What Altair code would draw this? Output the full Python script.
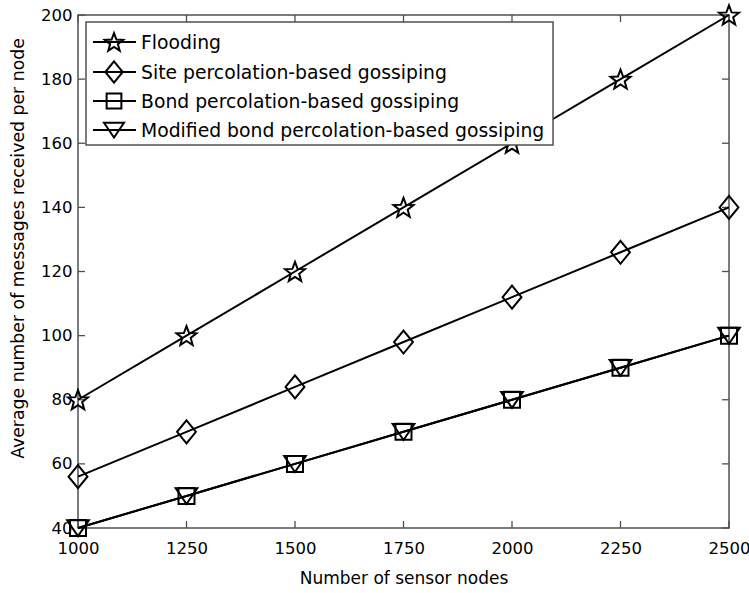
import math
import altair as alt
import pandas as pd

# ---- data -------------------------------------------------------------
NODES = [1000, 1250, 1500, 1750, 2000, 2250, 2500]
FLOODING = [80, 100, 120, 140, 160, 180, 200]
SITE = [56, 70, 84, 98, 112, 126, 140]
BOND = [40, 50, 60, 70, 80, 90, 100]
MODIFIED_BOND = [40, 50, 60, 70, 80, 90, 100]

SERIES = [
    "Flooding",
    "Site percolation-based gossiping",
    "Bond percolation-based gossiping",
    "Modified bond percolation-based gossiping",
]
VALUES = [FLOODING, SITE, BOND, MODIFIED_BOND]

X_TICKS = [1000, 1250, 1500, 1750, 2000, 2250, 2500]
Y_TICKS = [40, 60, 80, 100, 120, 140, 160, 180, 200]

# ---- marker outlines (unit box, scaled by symbol size) -----------------
def star_path(inner=0.42):
    pts = []
    for k in range(10):
        r = 1.0 if k % 2 == 0 else inner
        a = -math.pi / 2 + k * math.pi / 5
        pts.append((r * math.cos(a), r * math.sin(a) + 0.09))
    return "M" + "L".join(f"{x:.3f},{y:.3f}" for x, y in pts) + "Z"

MARKERS = [
    (star_path(), 440),
    ("M0,-1L0.82,0L0,1L-0.82,0Z", 529),
    ("M-0.8,-0.8L0.8,-0.8L0.8,0.8L-0.8,0.8Z", 400),
    ("M-1,-0.72L1,-0.72L0,0.75Z", 470),
]

FONT = "DejaVu Sans"
AXIS_GREY = "#505050"
W, H = 651, 513

rows = []
for name, vals in zip(SERIES, VALUES):
    for n, v in zip(NODES, vals):
        rows.append({"series": name, "nodes": n, "messages": v})
df = pd.DataFrame(rows)

x_scale = alt.Scale(domain=[1000, 2500], nice=False, zero=False)
y_scale = alt.Scale(domain=[40, 200], nice=False, zero=False)

x_enc = alt.X(
    "nodes:Q",
    scale=x_scale,
    axis=alt.Axis(
        title="Number of sensor nodes",
        values=X_TICKS,
        format="d",
        ticks=False,
        tickSize=0,
        domain=False,
        grid=False,
        labelPadding=12,
        labelFontSize=16.5,
        labelFont=FONT,
        labelColor="black",
        labelFlush=False,
        labelOverlap=False,
        titleFont=FONT,
        titleFontSize=17,
        titleFontWeight="normal",
        titleColor="black",
        titleY=50,
        titleBaseline="middle",
    ),
)
y_enc = alt.Y(
    "messages:Q",
    scale=y_scale,
    axis=alt.Axis(
        title="Average number of messages received per node",
        values=Y_TICKS,
        format="d",
        ticks=False,
        tickSize=0,
        domain=False,
        grid=False,
        labelPadding=6,
        labelFontSize=16.5,
        labelFont=FONT,
        labelColor="black",
        labelFlush=False,
        labelOverlap=False,
        titleFont=FONT,
        titleFontSize=17.3,
        titleFontWeight="normal",
        titleColor="black",
        titleX=-60,
        titleY=233,
        titleAlign="center",
        titleBaseline="middle",
    ),
)

layers = []

# inward tick marks on all four sides
xt = pd.DataFrame({"nodes": X_TICKS})
yt = pd.DataFrame({"messages": Y_TICKS})
tick_style = dict(color=AXIS_GREY, strokeWidth=1.3)
layers.append(alt.Chart(xt).mark_rule(**tick_style).encode(x=x_enc, y=alt.value(H), y2=alt.value(H - 7)))
layers.append(alt.Chart(xt).mark_rule(**tick_style).encode(x=x_enc, y=alt.value(0), y2=alt.value(7)))
layers.append(alt.Chart(yt).mark_rule(**tick_style).encode(y=y_enc, x=alt.value(0), x2=alt.value(7)))
layers.append(alt.Chart(yt).mark_rule(**tick_style).encode(y=y_enc, x=alt.value(W), x2=alt.value(W - 7)))

# series lines and markers
for name, (path, size) in zip(SERIES, MARKERS):
    sub = df[df["series"] == name]
    base = alt.Chart(sub)
    layers.append(base.mark_line(color="black", strokeWidth=2).encode(x=x_enc, y=y_enc))
    layers.append(
        base.mark_point(shape=path, size=size, filled=False, color="black", strokeWidth=2, opacity=1)
        .encode(x=x_enc, y=y_enc)
    )

# legend box
one = pd.DataFrame({"k": [0]})
layers.append(
    alt.Chart(one).mark_rect(fill="white", stroke=AXIS_GREY, strokeWidth=1.5).encode(
        x=alt.value(8), x2=alt.value(475), y=alt.value(7), y2=alt.value(130)
    )
)
LEG_Y = [27, 57, 86, 115]
for name, (path, size), ly in zip(SERIES, MARKERS, LEG_Y):
    item = pd.DataFrame({"series": [name]})
    c = alt.Chart(item)
    layers.append(
        c.mark_rule(color="black", strokeWidth=2).encode(x=alt.value(15), x2=alt.value(58), y=alt.value(ly))
    )
    layers.append(
        c.mark_point(shape=path, size=size * 0.85, filled=False, color="black", strokeWidth=2, opacity=1).encode(
            x=alt.value(36), y=alt.value(ly)
        )
    )
    layers.append(
        c.mark_text(align="left", baseline="middle", font=FONT, fontSize=18.8, color="black").encode(
            x=alt.value(63), y=alt.value(ly + 1), text="series:N"
        )
    )

chart = (
    alt.layer(*layers)
    .properties(
        width=W,
        height=H,
        autosize=alt.AutoSizeParams(type="none"),
        padding={"left": 78, "top": 15, "right": 20, "bottom": 65},
        background="white",
    )
    .configure_view(stroke=AXIS_GREY, strokeWidth=1.5)
)

chart.save("out.html", embed_options={"renderer": "svg", "actions": False})
